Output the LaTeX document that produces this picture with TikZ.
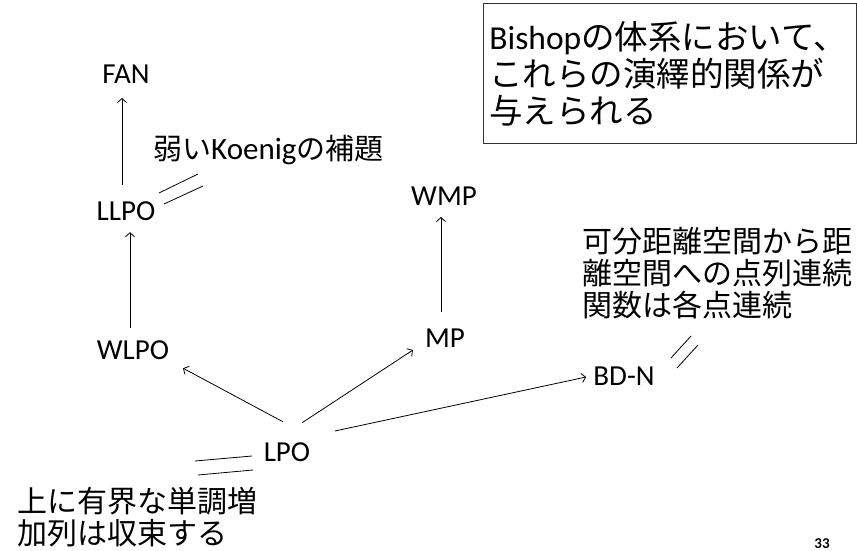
\documentclass[tikz,border=0pt]{standalone}
\usepackage{fontspec}
\setmainfont{Carlito}
\newfontfamily\cjk{Noto Sans CJK JP}
\usetikzlibrary{arrows.meta,calc}
\begin{document}
\begin{tikzpicture}[x=1pt,y=-1pt,
  lbl/.style={inner sep=0pt,font=\fontsize{29}{33}\selectfont},
  jlbl/.style={inner sep=0pt,align=left,font=\fontsize{30}{32}\selectfont\cjk},
  arr/.style={-{Straight Barb[length=4pt,width=9pt]},line width=0.8pt},
  eqline/.style={line width=0.8pt},
  boxnote/.style={draw=black!80,line width=0.9pt,anchor=north west,inner xsep=6pt,
    minimum width=373pt,minimum height=140pt,text width=361pt,align=left,
    font=\fontsize{33.5}{37}\selectfont}]
\useasboundingbox (0,0) rectangle (857,551);

% nodes
\node[lbl] (fan)  at (126,74)  {FAN};
\node[lbl] (llpo) at (126,211) {LLPO};
\node[lbl] (wlpo) at (133,350) {WLPO};
\node[lbl] (wmp)  at (444,196) {WMP};
\node[lbl] (mp)   at (445,338) {MP};
\node[lbl] (bdn)  at (624,376) {BD-N};
\node[lbl] (lpo)  at (287,452) {LPO};

\node[jlbl,anchor=west,font=\fontsize{29}{32}\selectfont\cjk] (koenig) at (153,150) {弱い{\normalfont\fontsize{31}{31}\selectfont Koenig}の補題};
\node[jlbl,anchor=north west] (bdnlbl) at (582,227) {可分距離空間から距\\離空間への点列連続\\関数は各点連続};
\node[jlbl,anchor=north west] (lpolbl) at (17,487) {上に有界な単調増\\加列は収束する};

\node[boxnote] (note) at (483,3) {Bishop{\cjk の体系において、}\\{\cjk これらの演繹的関係が}\\{\cjk 与えられる}};

\node[inner sep=0pt,font=\fontsize{15}{18}\selectfont\bfseries] (pg) at (822,544) {33};

% arrows
\draw[arr] ($(llpo.north)+(-4,-16)$) -- ($(fan.south)+(-4,14.5)$);
\draw[arr] ($(wlpo.north)+(-3,-12)$) -- ($(llpo.south)+(4,11.5)$);
\draw[arr] ($(mp.north)+(-4,-16.5)$) -- ($(wmp.south)+(-3,11.5)$);
\draw[arr] ($(lpo.north)+(-4,-20.5)$) -- ($(wlpo.south)+(50,8.5)$);
\draw[arr] ($(lpo.north)+(15,-19.5)$) -- ($(mp.south)+(-32,2.5)$);
\draw[arr] ($(lpo.east)+(24.5,-21)$) -- ($(bdn.west)+(-7,1)$);

% equivalence marks
\draw[eqline] (159,193) -- (198,174);
\draw[eqline] (164,204) -- (203,186);
\draw[eqline] (195,461) -- (252,456);
\draw[eqline] (198,475) -- (253,470);
\draw[eqline] (671,358) -- (691,336);
\draw[eqline] (677,368) -- (698,345);
\end{tikzpicture}
\end{document}
